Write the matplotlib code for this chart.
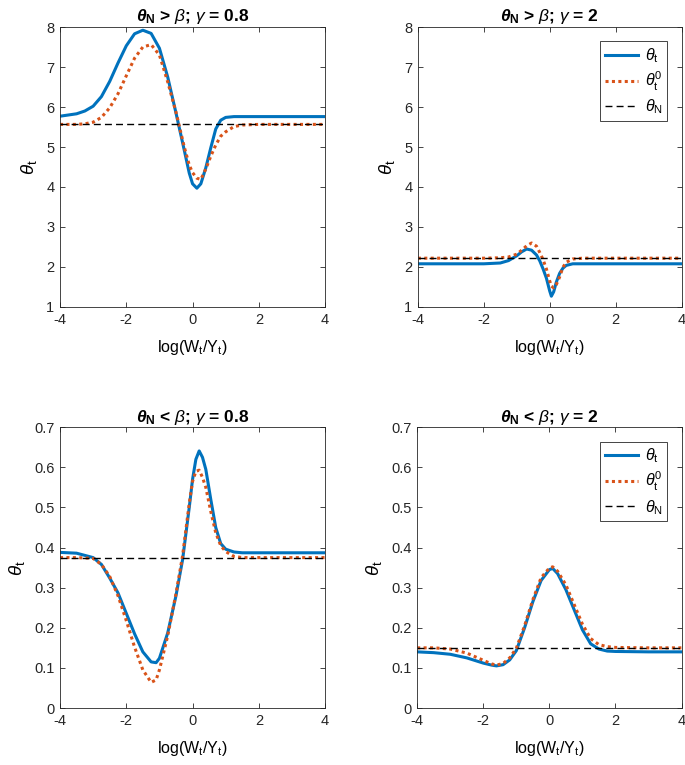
import matplotlib.pyplot as plt

plt.rcParams['font.family'] = ['Liberation Sans', 'DejaVu Sans']
plt.rcParams['mathtext.fontset'] = 'custom'
plt.rcParams['mathtext.rm'] = 'Liberation Sans'
plt.rcParams['mathtext.it'] = 'Liberation Sans:italic'
plt.rcParams['mathtext.bf'] = 'Liberation Sans:bold'
plt.rcParams['mathtext.bfit'] = 'Liberation Sans:bold:italic'
plt.rcParams['axes.unicode_minus'] = False

BLUE = '#0072BD'
ORANGE = '#D95319'

# panel A: theta_N > beta, gamma = 0.8
xa = [-4, -3.5, -3.25, -3, -2.75, -2.5, -2.25, -2, -1.75, -1.5, -1.25, -1, -0.75, -0.5, -0.25,
      -0.1, 0, 0.13, 0.25, 0.4, 0.55, 0.7, 0.85, 1, 1.25, 1.5, 2, 3, 4]
blue_a = [5.77, 5.83, 5.90, 6.02, 6.26, 6.64, 7.10, 7.53, 7.83, 7.92, 7.84, 7.47, 6.75, 5.85,
          4.92, 4.35, 4.08, 3.97, 4.08, 4.48, 4.98, 5.45, 5.67, 5.74, 5.76, 5.76, 5.76, 5.76, 5.76]
orange_a = [5.565, 5.565, 5.58, 5.62, 5.74, 5.98, 6.33, 6.78, 7.22, 7.50, 7.56, 7.30, 6.63,
            5.87, 5.00, 4.55, 4.36, 4.22, 4.19, 4.45, 4.77, 5.05, 5.27, 5.38, 5.51, 5.55,
            5.565, 5.565, 5.565]
thn_a = 5.58

# panel B: theta_N > beta, gamma = 2
xb = [-4, -2, -1.5, -1.25, -1, -0.85, -0.7, -0.55, -0.4, -0.3, -0.2, -0.1, 0, 0.05, 0.12,
      0.2, 0.3, 0.4, 0.5, 0.7, 1, 2, 4]
blue_b = [2.08, 2.08, 2.10, 2.16, 2.28, 2.38, 2.45, 2.42, 2.30, 2.15, 1.95, 1.72, 1.40, 1.27,
          1.38, 1.62, 1.84, 1.97, 2.04, 2.08, 2.08, 2.08, 2.08]
orange_b = [2.22, 2.22, 2.23, 2.25, 2.32, 2.42, 2.53, 2.60, 2.52, 2.36, 2.18, 1.95, 1.65, 1.52,
            1.48, 1.56, 1.75, 1.99, 2.12, 2.20, 2.22, 2.22, 2.22]
thn_b = 2.22

# panel C: theta_N < beta, gamma = 0.8
xc = [-4, -3.5, -3, -2.75, -2.5, -2.25, -2, -1.75, -1.5, -1.25, -1.1, -1, -0.75, -0.5, -0.3,
      -0.1, 0, 0.1, 0.2, 0.3, 0.4, 0.55, 0.7, 0.85, 1, 1.25, 1.5, 2, 3, 4]
blue_c = [0.388, 0.386, 0.375, 0.358, 0.324, 0.287, 0.236, 0.185, 0.140, 0.115, 0.113, 0.124,
          0.187, 0.280, 0.370, 0.500, 0.570, 0.620, 0.641, 0.625, 0.595, 0.520, 0.450, 0.410,
          0.396, 0.389, 0.387, 0.387, 0.387, 0.387]
orange_c = [0.375, 0.375, 0.373, 0.358, 0.328, 0.280, 0.218, 0.152, 0.095, 0.064, 0.070, 0.095,
            0.180, 0.285, 0.380, 0.510, 0.565, 0.590, 0.593, 0.575, 0.550, 0.490, 0.437, 0.405,
            0.390, 0.378, 0.375, 0.375, 0.375, 0.375]
thn_c = 0.374

# panel D: theta_N < beta, gamma = 2
xd = [-4, -3.5, -3, -2.5, -2, -1.75, -1.6, -1.4, -1.2, -1, -0.75, -0.5, -0.25, 0, 0.1, 0.25,
      0.5, 0.75, 1, 1.25, 1.5, 1.75, 2, 3, 4]
blue_d = [0.140, 0.138, 0.134, 0.125, 0.112, 0.107, 0.105, 0.108, 0.120, 0.143, 0.200, 0.265,
          0.318, 0.345, 0.348, 0.335, 0.295, 0.245, 0.195, 0.160, 0.147, 0.142, 0.141, 0.140, 0.140]
orange_d = [0.150, 0.150, 0.147, 0.137, 0.119, 0.110, 0.107, 0.111, 0.125, 0.149, 0.205, 0.270,
            0.325, 0.349, 0.352, 0.341, 0.307, 0.258, 0.209, 0.173, 0.158, 0.153, 0.151, 0.150, 0.150]
thn_d = 0.15

titles = [r'$\boldsymbol{\theta}_{\mathbf{N}}$ > $\beta$; $\gamma$ = 0.8',
          r'$\boldsymbol{\theta}_{\mathbf{N}}$ > $\beta$; $\gamma$ = 2',
          r'$\boldsymbol{\theta}_{\mathbf{N}}$ < $\beta$; $\gamma$ = 0.8',
          r'$\boldsymbol{\theta}_{\mathbf{N}}$ < $\beta$; $\gamma$ = 2']

panels = [(xa, blue_a, orange_a, thn_a), (xb, blue_b, orange_b, thn_b),
          (xc, blue_c, orange_c, thn_c), (xd, blue_d, orange_d, thn_d)]

# axes rectangles [left, bottom, width, height]
rects = [[0.0876, 0.5987, 0.387, 0.366], [0.610, 0.5987, 0.385, 0.366],
         [0.0876, 0.0745, 0.387, 0.367], [0.609, 0.0745, 0.386, 0.367]]

fig = plt.figure(figsize=(6.85, 7.65), dpi=100)

for i, (x, b, o, tn) in enumerate(panels):
    ax = fig.add_axes(rects[i])
    ax.plot(x, b, color=BLUE, lw=2.2, label=r'$\theta_{\rm t}$')
    ax.plot(x, o, color=ORANGE, lw=2.2, ls=(0, (1, 1.1)), label=r'$\theta_{\rm t}^{0}$')
    ax.axhline(tn, color='black', lw=1.0, ls=(0, (5, 3)), label=r'$\theta_{\rm N}$')
    ax.set_xlim(-4, 4)
    ax.set_xticks([-4, -2, 0, 2, 4])
    if i < 2:
        ax.set_ylim(1, 8)
        ax.set_yticks(range(1, 9))
    else:
        ax.set_ylim(0, 0.7)
        ax.set_yticks([0, 0.1, 0.2, 0.3, 0.4, 0.5, 0.6, 0.7])
        ax.set_yticklabels(['0', '0.1', '0.2', '0.3', '0.4', '0.5', '0.6', '0.7'])
    ax.tick_params(direction='in', top=True, right=True, labelsize=10.5,
                   length=3.5, width=0.6, colors='#262626', pad=4)
    for s in ax.spines.values():
        s.set_linewidth(0.6)
        s.set_color('#262626')
    ax.set_xlabel(r'log(W$_{\rm t}$/Y$_{\rm t}$)', fontsize=11.5, labelpad=8)
    ax.set_ylabel(r'$\theta_{\rm t}$', fontsize=13.5, labelpad=5)
    ax.set_title(titles[i], fontsize=12.5, fontweight='bold', pad=4)
    if i % 2 == 1:
        leg = ax.legend(loc='upper right', fontsize=11.5, handlelength=2.1,
                        fancybox=False, framealpha=1, edgecolor='#262626',
                        borderaxespad=0.9, labelspacing=0.3, handletextpad=0.4,
                        borderpad=0.3)
        leg.get_frame().set_linewidth(0.6)

fig.savefig('out.png', dpi=100)
